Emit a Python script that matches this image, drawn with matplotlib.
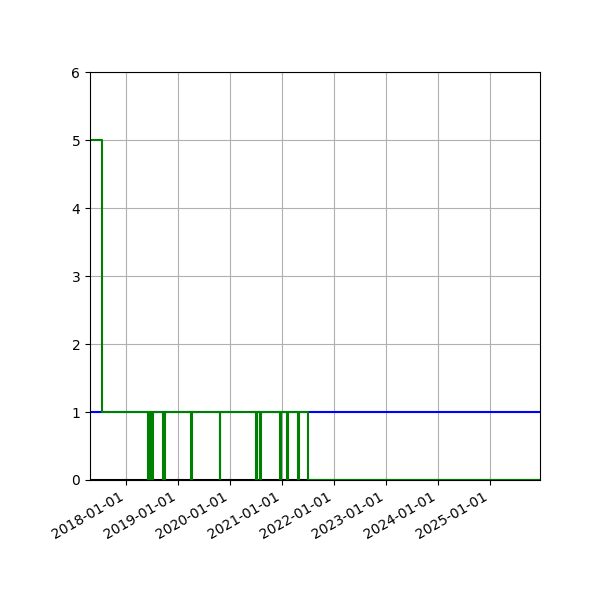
import matplotlib
matplotlib.use("Agg")
import matplotlib.pyplot as plt
import matplotlib.dates as mdates
import pandas as pd

# step series (change points, value after change)
green_dates = ["2017-04-22", "2017-07-15", "2018-06-01", "2018-06-08", "2018-06-15", "2018-06-20",
               "2018-07-01", "2018-07-08", "2018-09-20", "2018-09-28", "2019-04-05", "2019-04-10",
               "2019-10-20", "2019-10-25", "2020-07-05", "2020-07-10", "2020-08-01", "2020-08-06",
               "2020-12-15", "2020-12-22", "2021-02-05", "2021-02-10", "2021-04-22", "2021-04-27",
               "2021-07-01", "2025-12-20"]
green_vals = [5, 1, 0, 1, 0, 1, 0, 1, 0, 1, 0, 1, 0, 1, 0, 1, 0, 1, 0, 1, 0, 1, 0, 1, 0, 0]
blue_dates = ["2017-04-22", "2025-12-20"]
blue_vals = [1, 1]
black_dates = ["2017-04-22", "2025-12-20"]
black_vals = [0, 0]

fig, ax = plt.subplots(figsize=(6, 6), dpi=100)
ax.step(pd.to_datetime(black_dates), black_vals, where="post", color="black")
ax.step(pd.to_datetime(blue_dates), blue_vals, where="post", color="blue")
ax.step(pd.to_datetime(green_dates), green_vals, where="post", color="green")

ax.set_xlim(pd.Timestamp("2017-04-22"), pd.Timestamp("2025-12-20"))
ax.set_ylim(0, 6)
ax.xaxis.set_major_locator(mdates.YearLocator())
ax.xaxis.set_major_formatter(mdates.DateFormatter("%Y-%m-%d"))
ax.grid(True)
fig.autofmt_xdate()
fig.subplots_adjust(left=0.15, right=0.9, top=0.88, bottom=0.2)
fig.savefig("out.png")
